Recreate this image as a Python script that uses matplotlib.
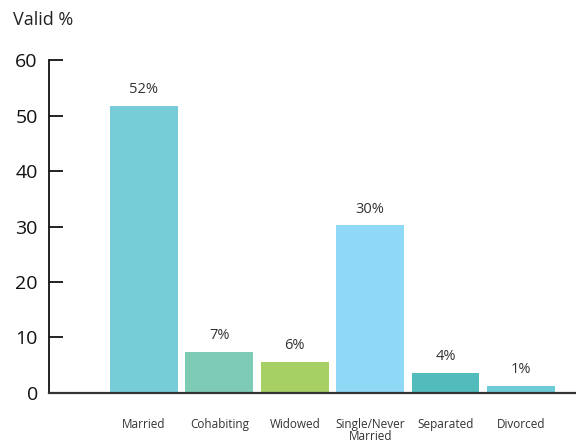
import matplotlib
matplotlib.use("Agg")
import matplotlib.pyplot as plt

plt.rcParams['font.family'] = ['Open Sans', 'DejaVu Sans']

# marital status breakdown
categories = ["Married", "Cohabiting", "Widowed", "Single/Never\nMarried", "Separated", "Divorced"]
valid_pct = [51.7, 7.4, 5.6, 30.2, 3.6, 1.2]
bar_colors = ["#76cdd8", "#7ecbb5", "#a6cf64", "#8fd9f7", "#52bbbb", "#6dccd8"]
y_ticks = [0, 10, 20, 30, 40, 50, 60]

fig = plt.figure(figsize=(5.76, 4.43), dpi=100)
ax = fig.add_axes([0.085, 0.1135, 0.915, 0.7503])

x = range(len(categories))
bars = ax.bar(x, valid_pct, width=0.9, color=bar_colors)

for b, v in zip(bars, valid_pct):
    ax.text(b.get_x() + b.get_width() / 2, v + 1.6, f"{v:.0f}%",
            ha="center", va="bottom", fontsize=10.5, color="#333333")

ax.set_xlim(-1.26, 5.73)
ax.set_ylim(0, 60)
ax.set_yticks(y_ticks)
ax.set_xticks(list(x))
ax.set_xticklabels(categories, fontsize=8.5, color="#333333", va="top", linespacing=0.9)

for s in ["top", "right"]:
    ax.spines[s].set_visible(False)
ax.spines["left"].set_linewidth(1.3)
ax.spines["left"].set_color("#111111")
ax.spines["bottom"].set_linewidth(1.6)
ax.spines["bottom"].set_color("#333333")

ax.tick_params(axis="y", direction="in", length=10, width=1.3, labelsize=14,
               pad=8, colors="#111111")
ax.tick_params(axis="x", length=0, pad=18)

fig.text(0.022, 0.955, "Valid %", fontsize=13, color="#222222", va="center", ha="left")

fig.savefig("out.png", dpi=100)
